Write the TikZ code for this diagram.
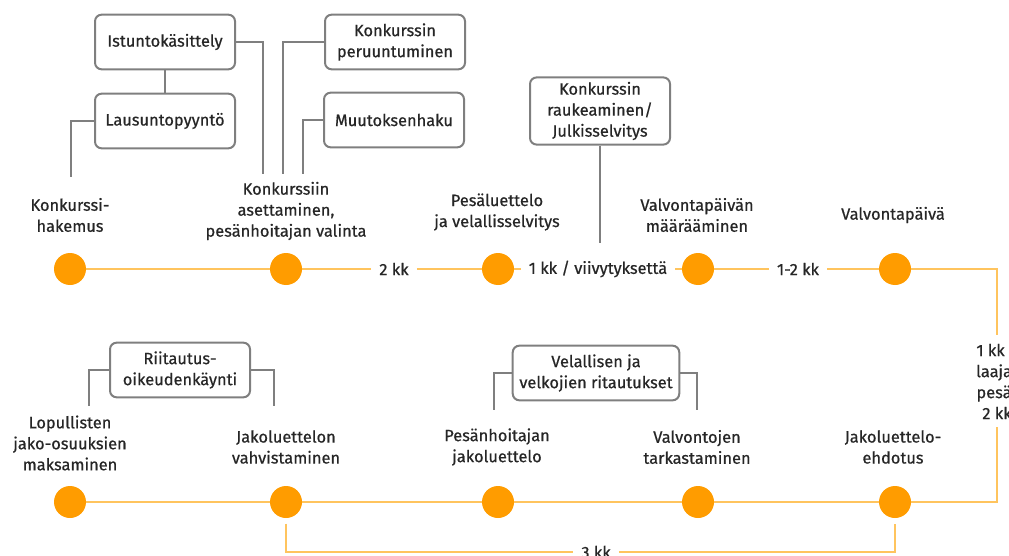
\documentclass[tikz,border=0pt]{standalone}
\usepackage{fontspec}
\setmainfont{Fira Sans}[FakeBold=0.6]
\definecolor{dotorange}{HTML}{FF9C00}
\definecolor{lineorange}{HTML}{FFC45E}
\definecolor{boxgray}{HTML}{7F7F7F}
\definecolor{txtgray}{HTML}{262626}
\tikzset{
  dot/.style={circle,fill=dotorange,inner sep=0pt,minimum size=24pt},
  vaihe/.style={align=center,text=txtgray,inner sep=1pt},
  kesto/.style={fill=white,text=txtgray,inner xsep=6pt,inner ysep=1pt},
  laatikko/.style={draw=boxgray,line width=1.5pt,rounded corners=5pt,align=center,
    text=txtgray,minimum width=105pt,minimum height=41pt,inner xsep=5pt},
  oranssi/.style={draw=lineorange,line width=2.2pt},
  harmaa/.style={draw=boxgray,line width=1.5pt},
}
\begin{document}
\begin{tikzpicture}[x=0.75pt,y=-0.75pt,font=\fontsize{12.3}{15.75}\selectfont]
  \useasboundingbox (0,0) rectangle (1009,556);
  % pisteet
  \foreach \n/\x in {1/70,2/286,3/498,4/698,5/895} {
    \node[dot] (y\n) at (\x,269) {};
    \node[dot] (a\n) at (\x,502) {};
  }
  % vaiheet ylhaalla
  \node[vaihe] (hakemus) at (70,215) {Konkurssi-\\hakemus};
  \node[vaihe] (asettaminen) at (286,211) {Konkurssiin\\asettaminen,\\pesänhoitajan valinta};
  \node[vaihe] (pesaluettelo) at (497,212) {Pesäluettelo\\ja velallisselvitys};
  \node[vaihe] (maaraaminen) at (697,215) {Valvontapäivän\\määrääminen};
  \node[vaihe] (valvontapv) at (893,215) {Valvontapäivä};
  % vaiheet alhaalla
  \node[vaihe] (maksaminen) at (70,443) {Lopullisten\\jako-osuuksien\\maksaminen};
  \node[vaihe] (vahvistaminen) at (286,447) {Jakoluettelon\\vahvistaminen};
  \node[vaihe] (jakoluettelo) at (497,447) {Pesänhoitajan\\jakoluettelo};
  \node[vaihe] (tarkastaminen) at (697,447) {Valvontojen\\tarkastaminen};
  \node[vaihe] (ehdotus) at (893,447) {Jakoluettelo-\\ehdotus};
  % kestot
  \node[kesto] (k1) at (394,269) {2 kk};
  \node[kesto] (k2) at (598,269) {1 kk / viivytyksettä};
  \node[kesto] (k3) at (798,269) {1-2 kk};
  \node[kesto,align=center,inner ysep=6pt] (k4) at (997,381) {1 kk /\\laajat\\pesät\\2 kk};
  \node[kesto] (k5) at (596,552) {3 kk};
  % aikajana
  \draw[oranssi] (y1) -- (y2);
  \draw[oranssi] (y2) -- (k1);
  \draw[oranssi] (k1) -- (y3);
  \draw[oranssi] (y3) -- (k2);
  \draw[oranssi] (k2) -- (y4);
  \draw[oranssi] (y4) -- (k3);
  \draw[oranssi] (k3) -- (y5);
  \coordinate (kulma1) at (997,269);
  \coordinate (kulma2) at (997,502);
  \draw[oranssi] (y5) -- (kulma1) -- (k4);
  \draw[oranssi] (k4) -- (kulma2) -- (a5);
  \foreach \i/\j in {1/2,2/3,3/4,4/5} {
    \draw[oranssi] (a\i) -- (a\j);
  }
  \draw[oranssi,shorten <=4pt] (a2) |- (k5);
  \draw[oranssi,shorten >=4pt] (k5) -| (a5);
  % laatikot
  \node[laatikko] (istunto) at (165,42) {Istuntokäsittely};
  \node[laatikko] (lausunto) at (165,121) {Lausuntopyyntö};
  \node[laatikko] (peruuntuminen) at (395,42) {Konkurssin\\peruuntuminen};
  \node[laatikko] (muutoksenhaku) at (394,120) {Muutoksenhaku};
  \node[laatikko] (raukeaminen) at (600,111) {Konkurssin\\raukeaminen/\\Julkisselvitys};
  \node[laatikko] (riitautus) at (180,370) {Riitautus-\\oikeudenkäynti};
  \node[laatikko] (ritautukset) at (596,373) {Velallisen ja\\velkojien ritautukset};
  % harmaat viivat
  \coordinate (p1) at (71,177);
  \coordinate (p2) at (263,174);
  \coordinate (p3) at (283,174);
  \coordinate (p4) at (303,174);
  \coordinate (p5) at (600,243);
  \coordinate (p6) at (89,406);
  \coordinate (p7) at (274,406);
  \coordinate (p8) at (494,410);
  \coordinate (p9) at (697,410);
  \draw[harmaa] (istunto) -- (lausunto);
  \draw[harmaa] (lausunto) -| (p1);
  \draw[harmaa] (istunto) -| (p2);
  \draw[harmaa] (peruuntuminen) -| (p3);
  \draw[harmaa] (muutoksenhaku) -| (p4);
  \draw[harmaa] (raukeaminen) -- (p5);
  \draw[harmaa] (riitautus) -| (p6);
  \draw[harmaa] (riitautus) -| (p7);
  \draw[harmaa] (ritautukset) -| (p8);
  \draw[harmaa] (ritautukset) -| (p9);
\end{tikzpicture}
\end{document}
